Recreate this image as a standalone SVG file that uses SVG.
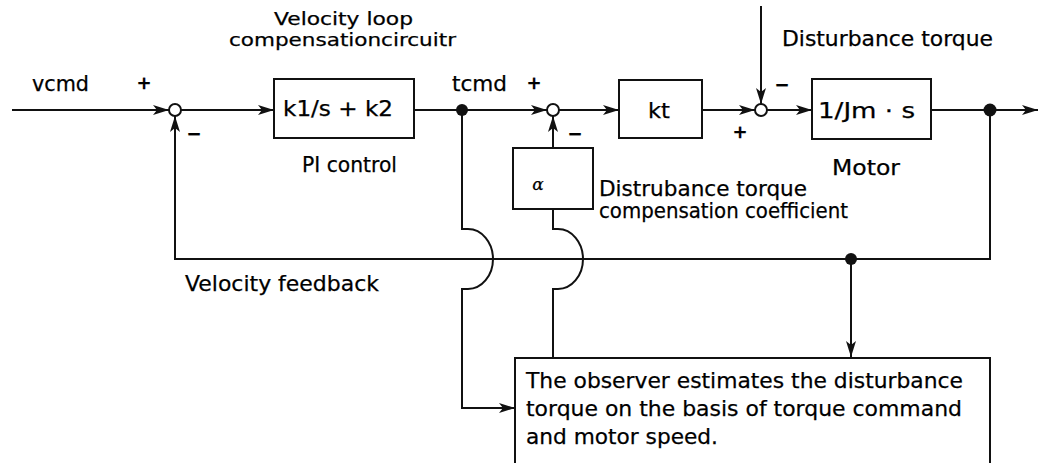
<svg xmlns="http://www.w3.org/2000/svg" width="1039" height="463" viewBox="0 0 1039 463">
<style>
text{font-family:"DejaVu Sans","Liberation Sans",sans-serif;font-size:21px;fill:#000;stroke:#000;stroke-width:0.25}
.sign{font-size:18px;font-weight:bold;text-anchor:middle}
.box{fill:#fff;stroke:#111;stroke-width:2}
.sum{fill:#fff;stroke:#111;stroke-width:2}
.dot{fill:#111}
.ln{fill:none;stroke:#111;stroke-width:2}
.arr{marker-end:url(#ah)}
</style>
<defs>
<marker id="ah" markerUnits="userSpaceOnUse" markerWidth="17" markerHeight="11" refX="16" refY="5" orient="auto">
<path d="M0,0 L16,5 L0,10 L4,5 z" fill="#111"/>
</marker>
</defs>
<rect width="1039" height="463" fill="#fff"/>

<g id="connectors">
<path class="ln arr" d="M12,110 H169"/>
<path class="ln arr" d="M181,110 H274"/>
<path class="ln arr" d="M414,110 H547"/>
<path class="ln arr" d="M559,110 H619"/>
<path class="ln arr" d="M702,110 H755"/>
<path class="ln arr" d="M767,110 H812"/>
<path class="ln arr" d="M931,110 H1038"/>
<path class="ln arr" d="M761,6 V104"/>
<path class="ln arr" d="M990,110 V259 H175 V116"/>
<path class="ln arr" d="M851,259 V357"/>
<path class="ln arr" d="M462,110 V229 H468 A25 30 0 0 1 468,289 H462 V408 H515"/>
<path class="ln" d="M553,209 V229 H558 A25 30 0 0 1 558,289 H553 V358"/>
<path class="ln arr" d="M553,148 V116"/>
</g>

<g id="sum1"><circle class="sum" cx="175" cy="110" r="6"/>
<text class="sign" x="144" y="89">+</text><text class="sign" x="194" y="140">−</text></g>
<g id="sum2"><circle class="sum" cx="553" cy="110" r="6"/>
<text class="sign" x="534" y="89">+</text><text class="sign" x="575" y="140">−</text></g>
<g id="sum3"><circle class="sum" cx="761" cy="110" r="6"/>
<text class="sign" x="740" y="138">+</text><text class="sign" x="782" y="91">−</text></g>

<g id="dots">
<circle class="dot" cx="462" cy="110" r="6"/>
<circle class="dot" cx="990" cy="110" r="6.5"/>
<circle class="dot" cx="851" cy="259" r="6"/>
</g>

<g id="input"><text x="32" y="91" textLength="57" lengthAdjust="spacingAndGlyphs">vcmd</text></g>

<g id="pi">
<rect class="box" x="274" y="79" width="140" height="59"/>
<text x="283" y="116" textLength="110" lengthAdjust="spacingAndGlyphs">k1/s + k2</text>
<text x="302" y="172" textLength="95" lengthAdjust="spacingAndGlyphs">PI control</text>
<text x="274" y="25" textLength="139" lengthAdjust="spacingAndGlyphs" style="font-size:18px">Velocity loop</text>
<text x="229" y="46" textLength="227" lengthAdjust="spacingAndGlyphs" style="font-size:18px">compensationcircuitr</text>
</g>

<g id="tcmd"><text x="452" y="91" textLength="55" lengthAdjust="spacingAndGlyphs">tcmd</text></g>

<g id="kt">
<rect class="box" x="619" y="80" width="83" height="58"/>
<text x="648" y="118" textLength="22" lengthAdjust="spacingAndGlyphs">kt</text>
</g>

<g id="motor">
<rect class="box" x="812" y="79" width="119" height="60"/>
<text x="818" y="118" textLength="97" lengthAdjust="spacingAndGlyphs">1/Jm · s</text>
<text x="832" y="175" textLength="68" lengthAdjust="spacingAndGlyphs">Motor</text>
</g>

<g id="disturbance"><text x="782" y="46" textLength="211" lengthAdjust="spacingAndGlyphs">Disturbance torque</text></g>

<g id="alpha">
<rect class="box" x="513" y="148" width="80" height="61"/>
<text x="538" y="190" style="font-family:'DejaVu Serif',serif;font-style:italic;font-size:17px" text-anchor="middle">α</text>
<text x="599" y="196" textLength="208" lengthAdjust="spacingAndGlyphs">Distrubance torque</text>
<text x="599" y="218" textLength="249" lengthAdjust="spacingAndGlyphs">compensation coefficient</text>
</g>

<g id="feedback-label"><text x="185" y="291" textLength="194" lengthAdjust="spacingAndGlyphs" style="font-size:22px">Velocity feedback</text></g>

<g id="observer">
<path class="box" d="M515,470 V358 H990 V470"/>
<text x="526" y="388" textLength="437" lengthAdjust="spacingAndGlyphs" style="font-size:22px">The observer estimates the disturbance</text>
<text x="526" y="416" textLength="436" lengthAdjust="spacingAndGlyphs" style="font-size:22px">torque on the basis of torque command</text>
<text x="526" y="444" textLength="192" lengthAdjust="spacingAndGlyphs" style="font-size:22px">and motor speed.</text>
</g>
</svg>
